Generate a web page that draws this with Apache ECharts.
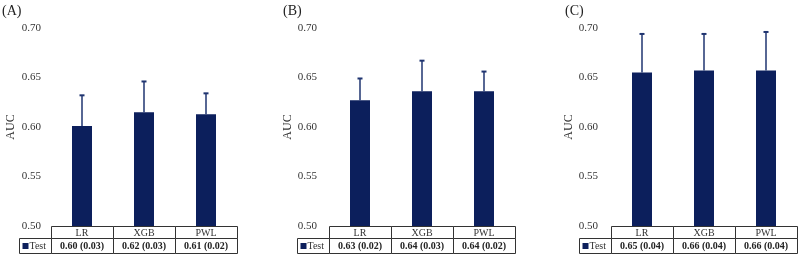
<!DOCTYPE html>
<html>
<head>
<meta charset="utf-8">
<script src="https://cdn.jsdelivr.net/npm/echarts@6/dist/echarts.min.js"></script>
<style>
html,body{margin:0;padding:0;background:#fff}
#main{width:800px;height:261px}
</style>
</head>
<body>
<div id="main"></div>
<script>
var categories=['LR','XGB','PWL']
var panelNames=['(A)','(B)','(C)']
// mean AUC and sd (error bar length) per panel
var meanA=[0.601,0.615,0.613]
var sdA=[0.031,0.031,0.021]
var meanB=[0.627,0.636,0.636]
var sdB=[0.022,0.031,0.020]
var meanC=[0.655,0.657,0.657]
var sdC=[0.039,0.037,0.039]
// table row texts
var tableA=['0.60 (0.03)','0.62 (0.03)','0.61 (0.02)']
var tableB=['0.63 (0.02)','0.64 (0.03)','0.64 (0.02)']
var tableC=['0.65 (0.04)','0.66 (0.04)','0.66 (0.04)']
var yTicks=[0.50,0.55,0.60,0.65,0.70]

var means=[meanA,meanB,meanC]
var sds=[sdA,sdB,sdC]
var tables=[tableA,tableB,tableC]

var barColor='#0c1f5c'
var lineColor='#333'
var font='"Liberation Serif", "Times New Roman", serif'

var myChart=echarts.init(document.getElementById('main'))

var gridLefts=[51,329,611]
var labelMargins=[10,12,13]
var nameGaps=[34,32,34]
var titleLefts=[2,283,565]

var grids=[],xAxes=[],yAxes=[],series=[],titles=[]

for(var p=0;p<3;p++){
    grids.push({left:gridLefts[p],width:186,top:28,height:198})
    titles.push({text:panelNames[p],left:titleLefts[p],top:4,padding:0,
        textStyle:{fontFamily:font,fontSize:14,fontWeight:'normal',color:'#222'}})
    xAxes.push({type:'category',gridIndex:p,data:categories,show:false})
    yAxes.push({
        type:'value',gridIndex:p,min:yTicks[0],max:yTicks[yTicks.length-1],interval:0.05,
        name:'AUC',nameLocation:'middle',nameGap:nameGaps[p],
        nameTextStyle:{fontFamily:font,fontSize:12,color:'#333'},
        axisLine:{show:false},axisTick:{show:false},splitLine:{show:false},
        axisLabel:{margin:labelMargins[p],fontFamily:font,fontSize:11,color:'#333',
            formatter:function(v){return v.toFixed(2)}}
    })
    // bars
    series.push({
        type:'bar',xAxisIndex:p,yAxisIndex:p,barWidth:20,
        itemStyle:{color:barColor},
        data:means[p]
    })
    // upper error bars
    series.push({
        type:'custom',xAxisIndex:p,yAxisIndex:p,z:3,
        data:means[p].map(function(m,i){return [i,m,m+sds[p][i]]}),
        encode:{x:0,y:[1,2]},
        renderItem:function(params,api){
            var base=api.coord([api.value(0),api.value(1)])
            var top=api.coord([api.value(0),api.value(2)])
            var st={stroke:'#1f3470',lineWidth:1.5}
            return {type:'group',children:[
                {type:'line',shape:{x1:base[0],y1:base[1],x2:top[0],y2:top[1]},style:st},
                {type:'line',shape:{x1:top[0]-2.5,y1:top[1],x2:top[0]+2.5,y2:top[1]},style:{stroke:'#1f3470',lineWidth:2}}
            ]}
        }
    })
    // data table under the axis
    ;(function(tab){
    series.push({
        type:'custom',xAxisIndex:p,yAxisIndex:p,clip:false,silent:true,
        data:categories.map(function(c,i){return [i,yTicks[0]]}),
        encode:{x:0,y:1},
        renderItem:function(params,api){
            var i=api.value(0)
            var pt=api.coord([i,api.value(1)])
            var bw=api.size([1,0])[0]
            var x0=Math.round(pt[0]-bw/2)+0.5
            var y0=Math.round(pt[1])+0.5
            var h1=12,h2=15
            var cellStyle={fill:'#fff',stroke:lineColor,lineWidth:1}
            var kids=[
                {type:'rect',shape:{x:x0,y:y0,width:bw,height:h1},style:cellStyle},
                {type:'rect',shape:{x:x0,y:y0+h1,width:bw,height:h2},style:cellStyle},
                {type:'text',x:pt[0],y:y0+h1/2+0.5,style:{text:categories[i],align:'center',verticalAlign:'middle',
                    fontFamily:font,fontSize:10,fill:'#333'}},
                {type:'text',x:pt[0],y:y0+h1+h2/2+0.5,style:{text:tab[i],align:'center',verticalAlign:'middle',
                    fontFamily:font,fontSize:10,fontWeight:'bold',fill:'#222'}}
            ]
            if(i===0){
                kids.push({type:'rect',shape:{x:x0-32,y:y0+h1,width:32,height:h2},style:cellStyle})
                kids.push({type:'rect',shape:{x:x0-29,y:y0+h1+4.5,width:6,height:6},style:{fill:barColor}})
                kids.push({type:'text',x:x0-22,y:y0+h1+h2/2+0.5,style:{text:'Test',align:'left',verticalAlign:'middle',
                    fontFamily:font,fontSize:10,fill:'#333'}})
            }
            return {type:'group',children:kids}
        }
    })
    })(tables[p])
}

var option={
    animation:false,
    title:titles,
    grid:grids,
    xAxis:xAxes,
    yAxis:yAxes,
    series:series
}
myChart.setOption(option)
</script>
</body>
</html>
